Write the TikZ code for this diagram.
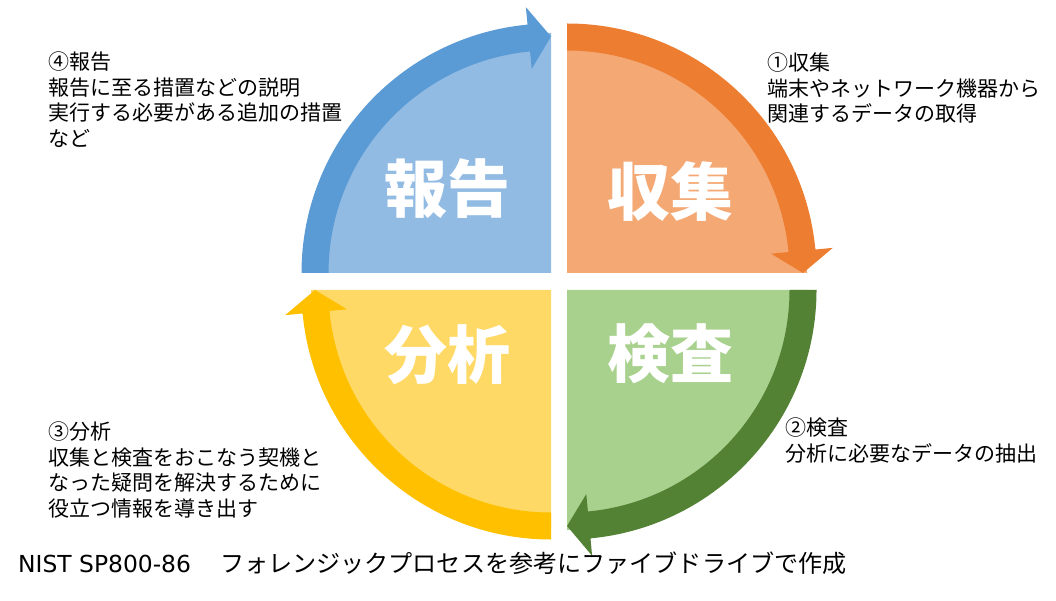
\documentclass[tikz,border=0pt]{standalone}
\usepackage{fontspec}
\newfontfamily\jp{Noto Sans CJK JP}
\newfontfamily\dv{DejaVu Sans}
\definecolor{bandblue}{HTML}{5B9BD5}
\definecolor{fillblue}{HTML}{91BBE3}
\definecolor{bandorange}{HTML}{ED7D31}
\definecolor{fillorange}{HTML}{F4A874}
\definecolor{bandgreen}{HTML}{548235}
\definecolor{fillgreen}{HTML}{A9D18E}
\definecolor{bandyellow}{HTML}{FFC000}
\definecolor{fillyellow}{HTML}{FFD966}
\tikzset{
  bigtxt/.style={text=white,font=\jp\bfseries\fontsize{63}{70}\selectfont,inner sep=0pt},
  desc/.style={anchor=north west,align=left,inner sep=0pt,font=\jp\fontsize{21}{25.5}\selectfont},
}
\begin{document}
\begin{tikzpicture}[x=1pt,y=1pt]
\useasboundingbox (0,0) rectangle (1056,600);
\coordinate (c1) at (551,327);
\coordinate (c2) at (567,327);
\coordinate (c3) at (567,310);
\coordinate (c4) at (551,310);
% wedges
\fill[fillblue] (c1) -- ++(180:240) arc[start angle=180,end angle=90,radius=240] -- cycle;
\fill[fillorange] (c2) -- ++(90:240) arc[start angle=90,end angle=0,radius=240] -- cycle;
\fill[fillgreen] (c3) -- ++(0:240) arc[start angle=0,end angle=-90,radius=240] -- cycle;
\fill[fillyellow] (c4) -- ++(270:240) arc[start angle=270,end angle=180,radius=240] -- cycle;
% arrows
\begin{scope}[shift={(c1)}]
\fill[bandblue] (180:249.5) arc[start angle=180,end angle=95.4,radius=249.5] -- (95.4:267) -- (90:236.5) -- (95.4:205) -- (95.4:222.5) arc[start angle=95.4,end angle=180,radius=222.5] -- cycle;
\end{scope}
\begin{scope}[shift={(c2)}]
\fill[bandorange] (90:249.5) arc[start angle=90,end angle=5.4,radius=249.5] -- (5.4:267) -- (0:236) -- (5.4:205) -- (5.4:222.5) arc[start angle=5.4,end angle=90,radius=222.5] -- cycle;
\end{scope}
\begin{scope}[shift={(c3)}]
\fill[bandgreen] (0:249.5) arc[start angle=0,end angle=-84.6,radius=249.5] -- (-84.6:267) -- (-90:236) -- (-84.6:205) -- (-84.6:222.5) arc[start angle=-84.6,end angle=0,radius=222.5] -- cycle;
\end{scope}
\begin{scope}[shift={(c4)}]
\fill[bandyellow] (270:249.5) arc[start angle=270,end angle=185.4,radius=249.5] -- (185.4:267) -- (180:236) -- (185.4:205) -- (185.4:222.5) arc[start angle=185.4,end angle=270,radius=222.5] -- cycle;
\end{scope}
% big labels
\node[bigtxt] (hokoku) at (447,411) {報告};
\node[bigtxt] (shushu) at (670,409) {収集};
\node[bigtxt] (kensa) at (670,246) {検査};
\node[bigtxt] (bunseki) at (447,245) {分析};
% descriptions
\node[desc] (d4) at (48,548) {④報告\\報告に至る措置などの説明\\実行する必要がある追加の措置\\など};
\node[desc] (d1) at (767,547) {①収集\\端末やネットワーク機器から\\関連するデータの取得};
\node[desc] (d3) at (48,178) {③分析\\収集と検査をおこなう契機と\\なった疑問を解決するために\\役立つ情報を導き出す};
\node[desc] (d2) at (785,182) {②検査\\分析に必要なデータの抽出};
\node[anchor=base west,inner sep=0pt] (cap) at (18,28) {{\dv\fontsize{23.4}{26}\selectfont NIST SP800-86}\hspace{29pt}{\jp\fontsize{24.1}{28}\selectfont フォレンジックプロセスを参考にファイブドライブで作成}};
\end{tikzpicture}
\end{document}
